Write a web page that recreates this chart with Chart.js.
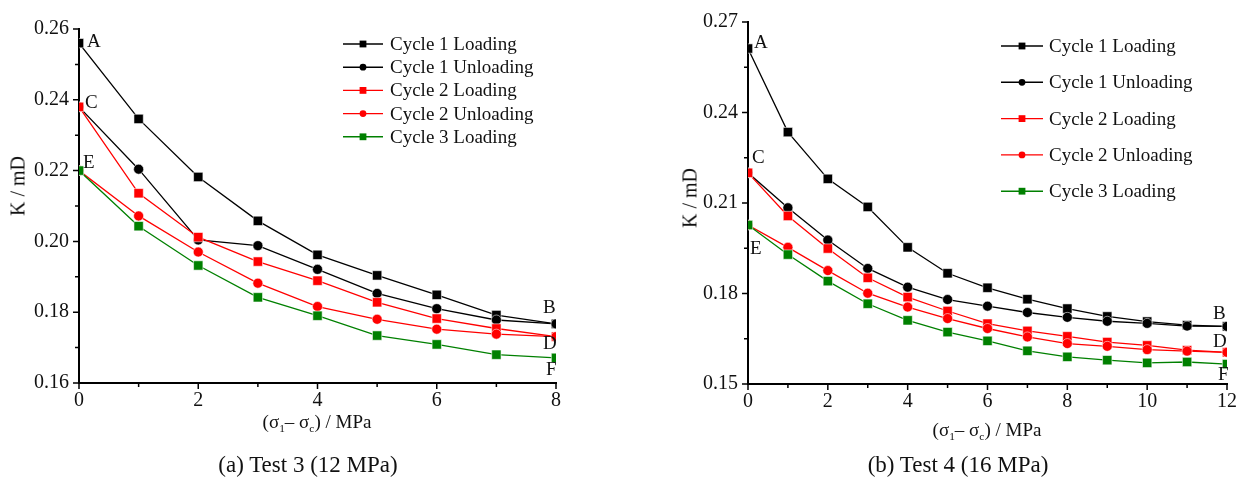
<!DOCTYPE html>
<html>
<head>
<meta charset="utf-8">
<script src="https://cdn.jsdelivr.net/npm/chart.js@4.4.0/dist/chart.umd.min.js"></script>
<style>
    body { margin: 0; background: #fff; font-family: 'Liberation Serif', 'Times New Roman', serif; color: #111; }
    #wrap { position: relative; width: 1247px; height: 480px; overflow: hidden; }
    canvas { position: absolute; top: 0; }
    .lbl { position: absolute; white-space: nowrap; transform: translate(-50%, -50%); }
    .ytitle { transform: translate(-50%, -50%) rotate(-90deg); }
    sub { font-size: 0.6em; vertical-align: -0.35em; line-height: 0; }
</style>
</head>
<body>
<div id="wrap">
    <canvas id="chartA" width="580" height="420" style="left:0px"></canvas>
    <canvas id="chartB" width="579" height="420" style="left:668px"></canvas>

    <div class="lbl ytitle" style="left:18px; top:186px; font-size:20px;">K / mD</div>
    <div class="lbl ytitle" style="left:690px; top:198px; font-size:20px;">K / mD</div>
    <div class="lbl" style="left:317px; top:422px; font-size:19px;">(σ<sub>1</sub>– σ<sub>c</sub>) / MPa</div>
    <div class="lbl" style="left:987px; top:430px; font-size:19px;">(σ<sub>1</sub>– σ<sub>c</sub>) / MPa</div>
    <div class="lbl" style="left:308px; top:465px; font-size:23px;">(a) Test 3 (12 MPa)</div>
    <div class="lbl" style="left:958px; top:465px; font-size:23px;">(b) Test 4 (16 MPa)</div>
</div>
<script>
// Series shared by both panels
const seriesNames = ['Cycle 1 Loading', 'Cycle 1 Unloading', 'Cycle 2 Loading', 'Cycle 2 Unloading', 'Cycle 3 Loading'];
const seriesColors = ['#000000', '#000000', '#ff0000', '#ff0000', '#008000'];
const seriesMarkers = ['rect', 'circle', 'rect', 'circle', 'rect'];

// (a) Test 3 (12 MPa)
const stressA = [0, 1, 2, 3, 4, 5, 6, 7, 8];
const a_c1Load   = [0.256, 0.2346, 0.2182, 0.2058, 0.1962, 0.1904, 0.1849, 0.1792, 0.1767];
const a_c1Unload = [0.238, 0.2204, 0.2004, 0.1988, 0.1921, 0.1853, 0.1810, 0.1778, 0.1767];
const a_c2Load   = [0.238, 0.2136, 0.2012, 0.1943, 0.1889, 0.1828, 0.1782, 0.1754, 0.1731];
const a_c2Unload = [0.220, 0.2072, 0.1970, 0.1882, 0.1816, 0.1780, 0.1752, 0.1738, 0.1731];
const a_c3Load   = [0.220, 0.2043, 0.1932, 0.1842, 0.1790, 0.1734, 0.1709, 0.1680, 0.1671];

// (b) Test 4 (16 MPa)
const stressB = [0, 1, 2, 3, 4, 5, 6, 7, 8, 9, 10, 11, 12];
const b_c1Load   = [0.2612, 0.2335, 0.2180, 0.2087, 0.1953, 0.1867, 0.1819, 0.1781, 0.1750, 0.1724, 0.1707, 0.1695, 0.1691];
const b_c1Unload = [0.2200, 0.2084, 0.1977, 0.1883, 0.1821, 0.1780, 0.1758, 0.1737, 0.1721, 0.1708, 0.1701, 0.1692, 0.1691];
const b_c2Load   = [0.2200, 0.2057, 0.1949, 0.1852, 0.1788, 0.1742, 0.1700, 0.1676, 0.1658, 0.1639, 0.1628, 0.1612, 0.1605];
const b_c2Unload = [0.2027, 0.1953, 0.1876, 0.1801, 0.1755, 0.1717, 0.1684, 0.1656, 0.1634, 0.1625, 0.1614, 0.1609, 0.1605];
const b_c3Load   = [0.2027, 0.1929, 0.1841, 0.1766, 0.1711, 0.1672, 0.1643, 0.1610, 0.1590, 0.1579, 0.1570, 0.1573, 0.1566];

// Axis ranges / ticks
const yTicksA = { min: 0.16, max: 0.26, step: 0.01, major: 20 };   // major every 0.02
const yTicksB = { min: 0.15, max: 0.27, step: 0.015, major: 30 };  // major every 0.03

// Point letters: [letter, series index, point index]
const tagsA = [['A', 0, 0], ['C', 2, 0], ['E', 4, 0], ['B', 0, 8], ['D', 2, 8], ['F', 4, 8]];
const tagsB = [['A', 0, 0], ['C', 2, 0], ['E', 4, 0], ['B', 0, 12], ['D', 2, 12], ['F', 4, 12]];

const FONT = "'Liberation Serif', 'Times New Roman', serif";

// draws small outward tick marks, shorter ones for the unlabeled steps
const tickMarks = {
    id: 'tickMarks',
    afterDraw(chart) {
        const ctx = chart.ctx;
        const xs = chart.scales.x, ys = chart.scales.y;
        ctx.save();
        ctx.strokeStyle = '#000';
        ctx.lineWidth = 1.5;
        ctx.beginPath();
        xs.ticks.forEach(t => {
            const p = xs.getPixelForValue(t.value);
            const len = t.label !== '' ? 6 : 4;
            ctx.moveTo(p, xs.top);
            ctx.lineTo(p, xs.top + len);
        });
        ys.ticks.forEach(t => {
            const p = ys.getPixelForValue(t.value);
            const len = t.label !== '' ? 6 : 4;
            ctx.moveTo(ys.right, p);
            ctx.lineTo(ys.right - len, p);
        });
        ctx.stroke();
        ctx.restore();
    }
};

function drawMarker(ctx, style, x, y, r, color) {
    ctx.fillStyle = color;
    if (style === 'circle') {
        ctx.beginPath();
        ctx.arc(x, y, r, 0, Math.PI * 2);
        ctx.fill();
    } else {
        ctx.fillRect(x - r, y - r, r * 2, r * 2);
    }
}

// legend drawn inside the plot: line + marker + label
const lineLegend = {
    id: 'lineLegend',
    afterDraw(chart, args, opts) {
        const ctx = chart.ctx;
        ctx.save();
        ctx.font = opts.fontSize + 'px ' + FONT;
        ctx.textBaseline = 'middle';
        ctx.textAlign = 'left';
        chart.data.datasets.forEach((ds, i) => {
            const y = opts.y + i * opts.gap;
            ctx.strokeStyle = ds.borderColor;
            ctx.lineWidth = 1.4;
            ctx.beginPath();
            ctx.moveTo(opts.x, y);
            ctx.lineTo(opts.x + opts.lineLen, y);
            ctx.stroke();
            drawMarker(ctx, ds.pointStyle, opts.x + opts.lineLen / 2, y, 3.4, ds.borderColor);
            ctx.fillStyle = '#111';
            ctx.fillText(ds.label, opts.x + opts.textOff, y + 1);
        });
        ctx.restore();
    }
};

// letters next to the start / end points
const pointTags = {
    id: 'pointTags',
    afterDatasetsDraw(chart, args, opts) {
        const ctx = chart.ctx;
        ctx.save();
        ctx.font = opts.fontSize + 'px ' + FONT;
        ctx.fillStyle = '#111';
        ctx.textBaseline = 'middle';
        ctx.textAlign = 'left';
        opts.tags.forEach((t, i) => {
            const el = chart.getDatasetMeta(t[1]).data[t[2]];
            const off = opts.offsets[i];
            ctx.fillText(t[0], el.x + off[0], el.y + off[1]);
        });
        ctx.restore();
    }
};

function buildChart(id, xs, values, yt, xMax, tags, layout) {
    const canvas = document.getElementById(id);
    const datasets = values.map((vals, i) => ({
        label: seriesNames[i],
        data: xs.map((x, j) => ({ x: x, y: vals[j] })),
        borderColor: seriesColors[i],
        backgroundColor: seriesColors[i],
        pointStyle: seriesMarkers[i],
        pointRadius: seriesMarkers[i] === 'rect' ? 6.6 : 5,
        pointBorderColor: 'rgba(255,255,255,0.7)',
        pointBorderWidth: 0.8,
        borderWidth: 1.3,
        tension: 0,
        fill: false,
        order: values.length - i
    }));

    return new Chart(canvas.getContext('2d'), {
        type: 'line',
        data: { datasets: datasets },
        options: {
            responsive: false,
            animation: false,
            layout: { padding: { left: 0, top: layout.top, right: canvas.width - layout.right, bottom: 0 } },
            plugins: {
                legend: { display: false },
                tooltip: { enabled: false },
                lineLegend: layout.legend,
                pointTags: { tags: tags, offsets: layout.tagOffsets, fontSize: 19 }
            },
            scales: {
                x: {
                    type: 'linear',
                    min: 0,
                    max: xMax,
                    ticks: {
                        stepSize: 1,
                        autoSkip: false,
                        maxRotation: 0,
                        padding: 6,
                        color: '#111',
                        font: { family: FONT, size: 20 },
                        callback: v => (v % 2 === 0 ? String(v) : '')
                    },
                    grid: { display: false, drawTicks: false },
                    border: { color: '#000', width: 2 },
                    afterFit: s => { s.height = canvas.height - layout.bottom; }
                },
                y: {
                    type: 'linear',
                    min: yt.min,
                    max: yt.max,
                    ticks: {
                        stepSize: yt.step,
                        autoSkip: false,
                        padding: 10,
                        color: '#111',
                        font: { family: FONT, size: 20 },
                        callback: v => (Math.round(v * 1000) % yt.major === 0 ? v.toFixed(2) : '')
                    },
                    grid: { display: false, drawTicks: false },
                    border: { color: '#000', width: 2 },
                    afterFit: s => { s.width = layout.left; }
                }
            }
        },
        plugins: [tickMarks, lineLegend, pointTags]
    });
}

buildChart('chartA', stressA, [a_c1Load, a_c1Unload, a_c2Load, a_c2Unload, a_c3Load], yTicksA, 8, tagsA, {
    left: 79, top: 29, right: 556, bottom: 383,
    legend: { x: 343, y: 44, gap: 23.2, lineLen: 40, textOff: 47, fontSize: 19 },
    tagOffsets: [[8, -1], [6, -4], [4, -8], [-13, -16], [-13, 7], [-10, 12]]
});

buildChart('chartB', stressB, [b_c1Load, b_c1Unload, b_c2Load, b_c2Unload, b_c3Load], yTicksB, 12, tagsB, {
    left: 80, top: 20, right: 559, bottom: 384,
    legend: { x: 333, y: 46, gap: 36.3, lineLen: 42, textOff: 48, fontSize: 19 },
    tagOffsets: [[6, -6], [4, -15], [2, 24], [-14, -12], [-14, -10], [-9, 11]]
});
</script>
</body>
</html>
